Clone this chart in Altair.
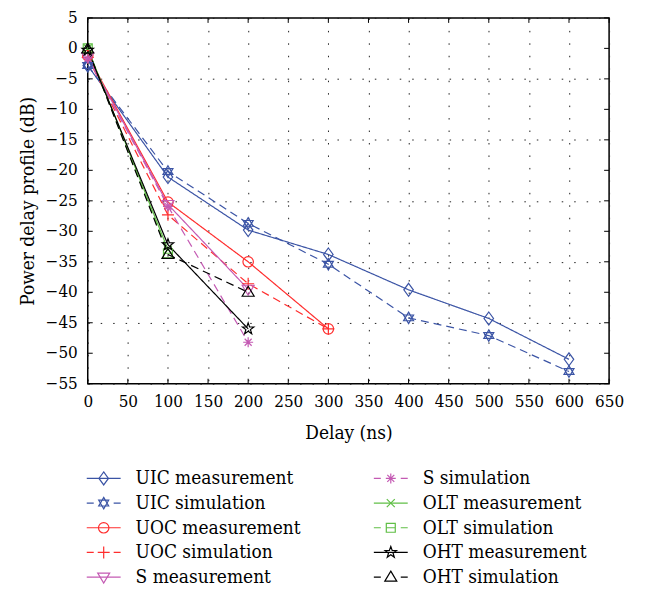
import altair as alt
import pandas as pd

# ---------------- data ----------------
series = ["UIC measurement", "UIC simulation", "UOC measurement", "UOC simulation",
          "S measurement", "S simulation", "OLT measurement", "OLT simulation",
          "OHT measurement", "OHT simulation"]

uic_delay = [0, 100, 200, 300, 400, 500, 600]
uic_meas = [-2.8, -21.1, -29.8, -33.8, -39.6, -44.3, -51.0]
uic_sim = [-2.8, -20.2, -28.7, -35.4, -44.2, -47.1, -53.0]

uoc_delay = [0, 100, 200, 300]
uoc_meas = [-1.2, -25.2, -35.0, -46.0]
uoc_sim = [-1.5, -27.3, -38.6, -46.0]

s_delay = [0, 100, 200]
s_meas = [-1.4, -25.6, -39.5]
s_sim = [-1.6, -25.9, -48.2]

olt_delay = [0, 100]
olt_meas = [0.0, -33.0]
olt_sim = [0.0, -33.6]

oht_delay = [0, 100, 200]
oht_meas = [-0.3, -32.2, -46.0]
oht_sim = [-0.1, -33.8, -40.0]

x_ticks = list(range(0, 651, 50))
y_ticks = list(range(-55, 6, 5))
y_tick_labels = [str(v).replace("-", "\u2212") for v in y_ticks]

colors = ["#3B54A5", "#3B54A5", "#FF2D2D", "#FF2D2D", "#C45AB3", "#C45AB3",
          "#60BF46", "#60BF46", "#000000", "#000000"]
solid = [1, 0]
dash = [8, 5]
dashes = [solid, dash] * 5
legend_dash = [[1, 0], [7, 20]] * 5

shapes = [
    "M0,-1.3L0.95,0L0,1.3L-0.95,0Z",                                   # diamond
    "M0,-1.15L1,0.58L-1,0.58Z M0,1.15L1,-0.58L-1,-0.58Z",              # hexagram
    "M1.05,0A1.05,1.05,0,1,1,-1.05,0A1.05,1.05,0,1,1,1.05,0Z",         # circle
    "M-1.2,0L1.2,0M0,-1.2L0,1.2",                                      # plus
    "M-1.2,-0.8L1.2,-0.8L0,1.2Z",                                      # triangle down
    "M-1,0L1,0M0,-1L0,1M-0.7,-0.7L0.7,0.7M-0.7,0.7L0.7,-0.7",          # asterisk
    "M-0.8,-0.8L0.8,0.8M-0.8,0.8L0.8,-0.8",                            # x
    "M-0.9,-0.9L0.9,-0.9L0.9,0.9L-0.9,0.9Z M-0.9,0L0.9,0",             # boxed minus
    "M0,-1.2L0.28,-0.39L1.14,-0.37L0.46,0.15L0.71,0.97L0,0.48L-0.71,0.97L-0.46,0.15L-1.14,-0.37L-0.28,-0.39Z",  # pentagram
    "M0,-1.2L1.2,0.8L-1.2,0.8Z",                                       # triangle up
]

rows = []
for name, d, v in [
    (series[0], uic_delay, uic_meas), (series[1], uic_delay, uic_sim),
    (series[2], uoc_delay, uoc_meas), (series[3], uoc_delay, uoc_sim),
    (series[4], s_delay, s_meas), (series[5], s_delay, s_sim),
    (series[6], olt_delay, olt_meas), (series[7], olt_delay, olt_sim),
    (series[8], oht_delay, oht_meas), (series[9], oht_delay, oht_sim),
]:
    for xi, yi in zip(d, v):
        rows.append({"series": name, "delay": xi, "power": yi, "k": series.index(name)})
df = pd.DataFrame(rows)

leg = pd.DataFrame({
    "series": series,
    "col": [i // 5 for i in range(10)],
    "row": [i % 5 for i in range(10)],
    "ldash": legend_dash,
})

FONT = "DejaVu Serif Condensed"
W, H = 523, 367

xscale = alt.Scale(domain=[x_ticks[0], x_ticks[-1]], nice=False, zero=False)
yscale = alt.Scale(domain=[y_ticks[0], y_ticks[-1]], nice=False, zero=False)
xaxis = alt.Axis(values=x_ticks, title="Delay (ns)", labelPadding=10, titlePadding=14,
                 labelOverlap=False, labelFlush=False)
yaxis = alt.Axis(values=y_ticks, title="Power delay profile (dB)", labels=False,
                 titlePadding=50)


def X(f):
    return alt.X(f, type="quantitative", scale=xscale, axis=xaxis)


def Y(f):
    return alt.Y(f, type="quantitative", scale=yscale, axis=yaxis)


color = alt.Color("series:N", scale=alt.Scale(domain=series, range=colors), legend=None)
shape = alt.Shape("series:N", scale=alt.Scale(domain=series, range=shapes), legend=None)
sdash = alt.StrokeDash("series:N", scale=alt.Scale(domain=series, range=dashes), legend=None)

base = alt.Chart(df)
lines = base.mark_line(strokeWidth=1.2).encode(
    x=X("delay"), y=Y("power"), color=color, strokeDash=sdash,
    detail="series:N", order="delay:Q")
points = base.mark_point(filled=False, strokeWidth=1.2, size=100, opacity=1).encode(
    x=X("delay"), y=Y("power"), color=color, shape=shape, order="k:Q")

xt = pd.DataFrame({"t": x_ticks})
yt = pd.DataFrame({"t": y_ticks, "lab": y_tick_labels})
tick_bottom = alt.Chart(xt).mark_rule(color="black", y2Offset=-5).encode(
    x=X("t"), y=alt.datum(y_ticks[0]), y2=alt.datum(y_ticks[0]))
tick_top = alt.Chart(xt).mark_rule(color="black", y2Offset=5).encode(
    x=X("t"), y=alt.datum(y_ticks[-1]), y2=alt.datum(y_ticks[-1]))
tick_left = alt.Chart(yt).mark_rule(color="black", x2Offset=5).encode(
    y=Y("t"), x=alt.datum(x_ticks[0]), x2=alt.datum(x_ticks[0]))
tick_right = alt.Chart(yt).mark_rule(color="black", x2Offset=-5).encode(
    y=Y("t"), x=alt.datum(x_ticks[-1]), x2=alt.datum(x_ticks[-1]))
y_labels = alt.Chart(yt).mark_text(align="right", baseline="middle", dx=-10,
                                   fontSize=17, font=FONT, color="black").encode(
    y=Y("t"), x=alt.datum(x_ticks[0]), text="lab:N")

main = alt.layer(lines, points, tick_bottom, tick_top, tick_left, tick_right, y_labels)

lx = alt.X("col:Q", scale=alt.Scale(domain=[0, 1], range=[16, 304]), axis=None)
ly = alt.Y("row:Q", scale=alt.Scale(domain=[0, 4], range=[462, 561]), axis=None)
lbase = alt.Chart(leg)
leg_lines = lbase.mark_rule(strokeWidth=1.2, xOffset=-17, x2Offset=17).encode(
    x=lx, x2="col:Q", y=ly, color=color,
    strokeDash=alt.StrokeDash("ldash", scale=None, legend=None))
leg_pts = lbase.mark_point(filled=False, strokeWidth=1.2, size=100, opacity=1).encode(
    x=lx, y=ly, color=color, shape=shape)
leg_text = lbase.mark_text(align="left", baseline="middle", dx=32, fontSize=19,
                           font=FONT, color="black").encode(
    x=lx, y=ly, text="series:N")
legend = alt.layer(leg_lines, leg_pts, leg_text)

chart = alt.layer(main, legend).resolve_scale(x="independent", y="independent").properties(
    width=W, height=H,
    padding={"left": 80, "top": 9, "right": 30, "bottom": 207},
    autosize=alt.AutoSizeParams(type="none"),
).configure_view(stroke="#000", strokeWidth=1.5).configure_axis(
    labelFont=FONT, titleFont=FONT, labelFontSize=17, titleFontSize=19,
    titleFontWeight="normal", labelColor="black", titleColor="black",
    domain=False, ticks=False, grid=True, gridDash=[1.5, 11], gridColor="#222",
    gridWidth=1, gridOpacity=1, labelOverlap=False, labelFlush=False,
).configure_text(font=FONT)

chart.save("out.html", embed_options={"renderer": "svg", "actions": False})
